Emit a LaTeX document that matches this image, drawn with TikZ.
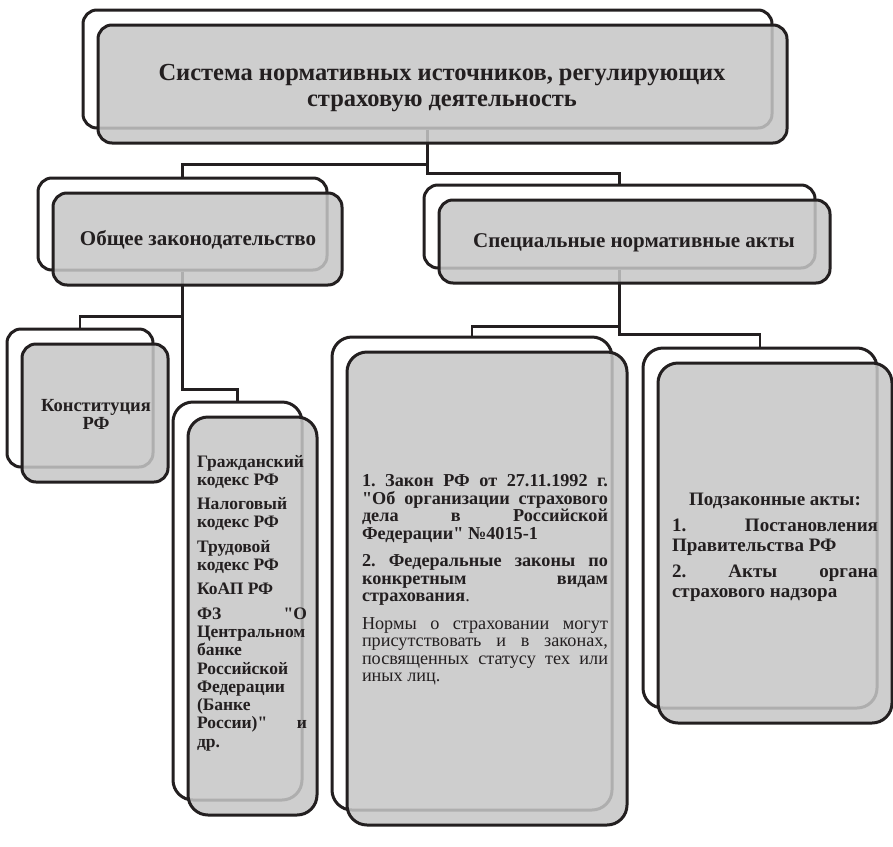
\documentclass[tikz,border=0pt]{standalone}
\usepackage{fontspec}
\setmainfont{Liberation Serif}[Ligatures=TeXOff]
\usepackage{tikz}
\definecolor{cardgray}{RGB}{198,198,198}
\definecolor{inkgray}{RGB}{35,31,32}
\frenchspacing

\begin{document}
\begin{tikzpicture}[x=1pt, y=-1pt,
                    back/.style={draw=inkgray, fill=white, line width=3pt, rounded corners=14pt, inner sep=0pt},
                    front/.style={back, fill=cardgray, fill opacity=0.86},
                    tall/.style={rounded corners=20pt},
                    link/.style={draw=inkgray, line width=2.8pt},
                    cardtext/.style={text=inkgray, inner sep=0pt, execute at begin node={\hyphenpenalty=10000\exhyphenpenalty=10000}},
                    bigtext/.style={cardtext, font=\bfseries\fontsize{21}{25}\selectfont},
                    sys/.style={minimum width=689pt, minimum height=118pt},
                    gen/.style={minimum width=289pt, minimum height=92pt},
                    spec/.style={minimum width=391pt, minimum height=83pt},
                    const/.style={minimum width=146pt, minimum height=138pt},
                    codes/.style={tall, minimum width=129pt, minimum height=398pt},
                    laws/.style={tall, minimum width=280pt, minimum height=473pt},
                    bylaws/.style={tall, minimum width=234pt, minimum height=360pt}]
    \useasboundingbox[fill=white] (0,0) rectangle (893,846);

    \node[back, sys] (bSys) at (427.5,69) {};
    \node[back, gen] (bGen) at (182.5,224) {};
    \node[back, spec] (bSpec) at (619.5,226.5) {};
    \node[back, const] (bConst) at (80,398) {};
    \node[back, codes] (bCodes) at (237.5,601) {};
    \node[back, laws] (bLaws) at (472,573.5) {};
    \node[back, bylaws] (bBylaws) at (760,528) {};

    \draw[link] (bSys.south) -- ++(0,35) -| (bGen.north);
    \draw[link] (bSys.south) -- ++(0,44) -| (bSpec.north);
    \draw[link] (bGen.south) -- ++(0,45) -| (bConst.north);
    \draw[link] (bGen.south) -- ++(0,118) -| (bCodes.north);
    \draw[link] (bSpec.south) -- ++(0,57) -| (bLaws.north);
    \draw[link] (bSpec.south) -- ++(0,65) -| (bBylaws.north);

    \node[front, sys] (fSys) at ([shift={(15,15)}]bSys.center) {};
    \node[front, gen] (fGen) at ([shift={(15,15)}]bGen.center) {};
    \node[front, spec] (fSpec) at ([shift={(15,15)}]bSpec.center) {};
    \node[front, const] (fConst) at ([shift={(15,15)}]bConst.center) {};
    \node[front, codes] (fCodes) at ([shift={(15,15)}]bCodes.center) {};
    \node[front, laws] (fLaws) at ([shift={(15,15)}]bLaws.center) {};
    \node[front, bylaws] (fBylaws) at ([shift={(15,15)}]bBylaws.center) {};

    \node[bigtext, align=center, font=\bfseries\fontsize{24.5}{26}\selectfont] (tSys) at (442,88)
        {Система нормативных источников, регулирующих\\страховую деятельность};
    \node[bigtext] (tGen) at (198,240) {Общее законодательство};
    \node[bigtext] (tSpec) at (634,243) {Специальные нормативные акты};
    \node[cardtext, align=center, font=\bfseries\fontsize{18.5}{18}\selectfont] (tConst) at (96,414)
        {Конституция\\РФ};
    \node[cardtext, text width=110pt, align=justify, font=\bfseries\fontsize{17.5}{18.3}\selectfont] (tCodes) at (252,603)
        {\setlength{\parskip}{6pt}%
        Гражданский\\кодекс РФ\par
        Налоговый\\кодекс РФ\par
        Трудовой\\кодекс РФ\par
        КоАП РФ\par
        ФЗ "О\linebreak Центральном\\банке\\Российской\\Федерации\\(Банке\\России)" и\linebreak др.};
    \node[cardtext, text width=246pt, align=justify, font=\bfseries\fontsize{18.2}{17.5}\selectfont] (tLaws) at (485,580)
        {\setlength{\parskip}{10pt}%
        1. Закон РФ от 27.11.1992 г.\linebreak "Об организации страхового\linebreak дела в Российской\linebreak Федерации" №4015-1\par
        2. Федеральные законы по\linebreak конкретным видам\linebreak страхования{\mdseries .}\par
        {\mdseries Нормы о страховании могут\linebreak присутствовать и в законах,\linebreak посвященных статусу тех или\linebreak иных лиц.\par}};
    \node[cardtext, text width=206pt, align=justify, font=\bfseries\fontsize{19}{20}\selectfont] (tBylaws) at (775,547)
        {\setlength{\parskip}{6pt}%
        {\centering Подзаконные акты:\par}
        1. Постановления\linebreak Правительства РФ\par
        2. Акты органа\linebreak страхового надзора};
\end{tikzpicture}
\end{document}
